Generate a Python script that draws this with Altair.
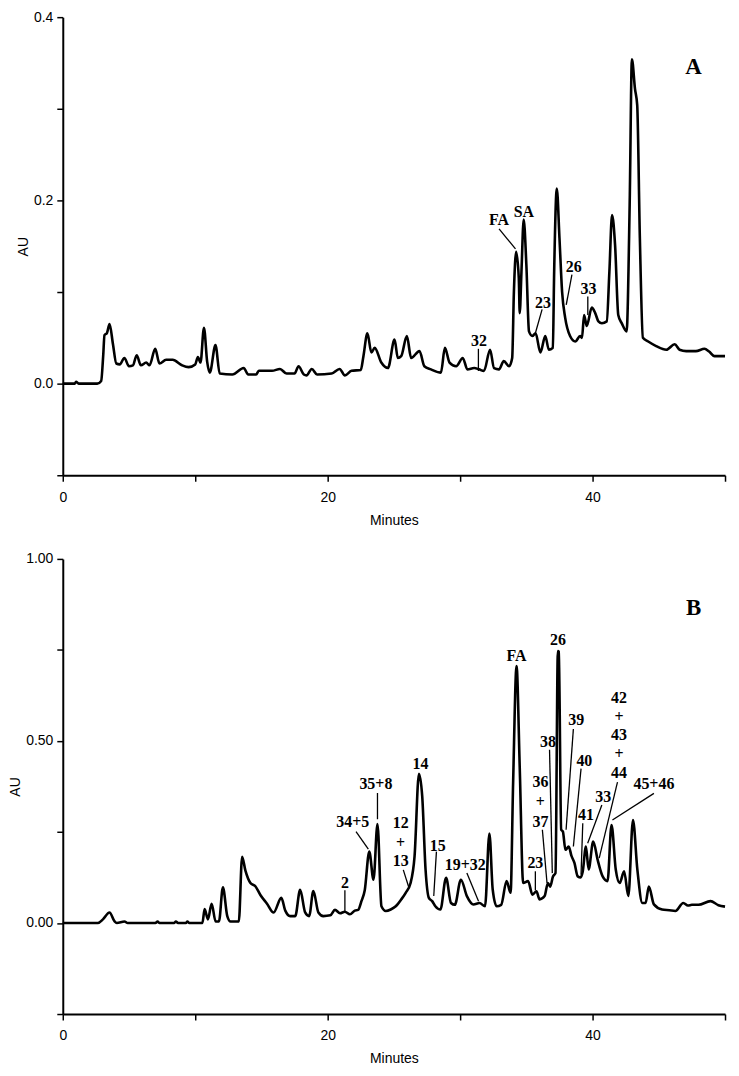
import altair as alt
import pandas as pd

# ---------------- Panel A trace (minutes, AU) ----------------
a_time = [0, 0.9, 1.0, 1.2, 2.6, 2.9, 3.05, 3.15, 3.33, 3.53, 3.79, 4.04, 4.3, 4.65, 5.0, 5.3, 5.58, 5.9,
          6.3, 6.55, 6.98, 7.3, 7.8, 8.3, 9.0, 9.5, 10.0, 10.2, 10.4, 10.66, 10.9, 11.1, 11.53, 11.85,
          12.8, 13.66, 14.0, 14.6, 14.8, 15.8, 16.4, 16.9, 17.5, 17.8, 18.2, 18.4, 18.8, 19.2, 20.3,
          20.9, 21.3, 21.8, 22.5, 22.7, 23.0, 23.3, 23.55, 24.05, 24.55, 25.05, 25.3, 25.55, 25.98,
          26.3, 26.93, 27.3, 27.8, 28.55, 28.85, 29.2, 29.7, 30.2, 30.55, 31.06, 31.43, 31.8, 32.26,
          32.56, 32.93, 33.3, 33.7, 33.93, 34.06, 34.23, 34.43, 34.5, 34.63, 34.8, 35.0, 35.2, 35.45,
          35.7, 36.06, 36.43, 36.7, 37.0, 37.1, 37.3, 37.5, 37.7, 37.93, 38.3, 38.7, 39.06, 39.2,
          39.36, 39.56, 39.94, 40.2, 40.44, 40.7, 41.07, 41.27, 41.47, 41.7, 41.94, 42.2, 42.57, 42.8,
          42.97, 43.2, 43.37, 43.57, 43.8, 44.2, 44.8, 45.57, 46.2, 46.57, 47.07, 47.8, 48.45, 48.8,
          49.2, 50.0]
a_au = [0, 0, 0.002, 0, 0, 0.003, 0.03, 0.053, 0.055, 0.065, 0.043, 0.022, 0.021, 0.028, 0.019, 0.02,
        0.031, 0.02, 0.023, 0.02, 0.038, 0.022, 0.026, 0.026, 0.02, 0.018, 0.021, 0.029, 0.023, 0.061,
        0.024, 0.012, 0.042, 0.011, 0.01, 0.017, 0.01, 0.01, 0.014, 0.014, 0.016, 0.011, 0.011, 0.019,
        0.01, 0.009, 0.016, 0.01, 0.011, 0.016, 0.009, 0.014, 0.015, 0.03, 0.055, 0.034, 0.039, 0.023,
        0.017, 0.048, 0.028, 0.030, 0.052, 0.028, 0.0355, 0.019, 0.0156, 0.012, 0.039, 0.023, 0.019,
        0.028, 0.0156, 0.017, 0.0156, 0.0138, 0.037, 0.017, 0.0156, 0.0246, 0.019, 0.028, 0.10, 0.144,
        0.115, 0.077, 0.122, 0.179, 0.13, 0.057, 0.052, 0.055, 0.034, 0.052, 0.037, 0.039, 0.1225,
        0.213, 0.159, 0.10, 0.072, 0.052, 0.046, 0.052, 0.05, 0.075, 0.063, 0.083, 0.077, 0.068, 0.066,
        0.068, 0.1225, 0.184, 0.151, 0.075, 0.066, 0.057, 0.195, 0.354, 0.322, 0.304, 0.159, 0.05,
        0.046, 0.041, 0.037, 0.043, 0.037, 0.0355, 0.0355, 0.038, 0.035, 0.03, 0.03]

# ---------------- Panel B trace (minutes, AU) ----------------
b_time = [0, 2.65, 3.03, 3.53, 3.9, 4.08, 4.66, 4.9, 7.0, 7.16, 7.3, 8.4, 8.54, 8.7, 9.3, 9.41, 9.55,
          10.54, 10.71, 10.96, 11.24, 11.54, 11.79, 12.09, 12.42, 12.67, 13.29, 13.54, 13.79, 14.17,
          14.54, 14.92, 15.42, 15.92, 16.5, 16.8, 17.17, 17.55, 17.92, 18.3, 18.6, 18.92, 19.3, 19.67,
          20.2, 20.55, 20.93, 21.3, 21.68, 22.05, 22.3, 22.55, 22.8, 23.14, 23.46, 23.76, 24.06, 24.39,
          24.76, 25.14, 25.56, 25.89, 26.26, 26.56, 26.89, 27.14, 27.39, 27.64, 27.89, 28.13, 28.51,
          28.94, 29.31, 29.6, 30.06, 30.51, 31.01, 31.46, 31.88, 32.21, 32.46, 32.76, 33.1, 33.51,
          33.81, 34.0, 34.26, 34.5, 34.76, 35.13, 35.46, 35.76, 36.0, 36.38, 36.63, 36.8, 37.01, 37.2,
          37.38, 37.45, 37.63, 37.76, 37.95, 38.2, 38.4, 38.63, 38.88, 39.1, 39.25, 39.5, 39.7, 40.05,
          40.38, 40.76, 41.13, 41.43, 41.75, 42.05, 42.38, 42.7, 43.05, 43.38, 43.76, 44.0, 44.25,
          44.63, 45.25, 45.8, 46.25, 46.85, 47.2, 47.5, 48.0, 48.9, 49.5, 50.0]
b_au = [0, 0, 0.01, 0.029, 0.005, 0, 0.004, 0, 0, 0.004, 0, 0, 0.004, 0, 0, 0.004, 0, 0, 0.038, 0.01,
        0.053, 0.004, 0.004, 0.098, 0.019, 0.004, 0.004, 0.182, 0.144, 0.110, 0.101, 0.077, 0.053,
        0.029, 0.069, 0.034, 0.019, 0.019, 0.091, 0.029, 0.019, 0.088, 0.029, 0.019, 0.021, 0.036,
        0.027, 0.031, 0.024, 0.034, 0.036, 0.06, 0.09, 0.196, 0.119, 0.272, 0.046, 0.033, 0.037,
        0.046, 0.065, 0.083, 0.11, 0.183, 0.41, 0.347, 0.147, 0.069, 0.06, 0.046, 0.037, 0.124,
        0.055, 0.05, 0.119, 0.074, 0.051, 0.055, 0.046, 0.246, 0.092, 0.046, 0.05, 0.115, 0.083,
        0.383, 0.706, 0.428, 0.11, 0.115, 0.078, 0.087, 0.065, 0.074, 0.11, 0.1, 0.128, 0.137, 0.747,
        0.745, 0.256, 0.251, 0.201, 0.21, 0.185, 0.165, 0.128, 0.125, 0.14, 0.21, 0.147, 0.224,
        0.174, 0.128, 0.115, 0.269, 0.147, 0.11, 0.142, 0.074, 0.283, 0.147, 0.055, 0.055, 0.1,
        0.051, 0.037, 0.035, 0.033, 0.055, 0.048, 0.05, 0.05, 0.06, 0.049, 0.045]

# ---------------- Annotations ----------------
a_lbl_text = ["FA", "SA", "23", "26", "33", "32"]
a_lbl_x = [32.94, 34.81, 36.26, 38.57, 39.69, 31.43]
a_lbl_y = [0.1786, 0.187, 0.088, 0.127, 0.1036, 0.046]
a_lead_x1 = [32.94, 36.19, 38.44, 39.64, 31.38]
a_lead_y1 = [0.169, 0.081, 0.119, 0.095, 0.038]
a_lead_x2 = [34.18, 35.68, 38.01, 39.64, 31.38]
a_lead_y2 = [0.147, 0.055, 0.086, 0.075, 0.0138]

b_lbl_text = ["2", "34+5", "35+8", "12", "+", "13", "14", "15", "19+32", "FA", "26", "38", "39", "40",
              "36", "+", "37", "23", "41", "33", "42", "+", "43", "+", "44", "45+46"]
b_lbl_x = [21.3, 21.89, 23.64, 25.51, 25.51, 25.51, 27.01, 28.31, 30.39, 34.26, 37.38, 36.63, 38.76,
           39.38, 36.06, 36.06, 36.06, 35.68, 39.5, 40.8, 42.0, 42.0, 42.0, 42.0, 42.0, 44.63]
b_lbl_y = [0.11, 0.278, 0.383, 0.274, 0.221, 0.169, 0.437, 0.212, 0.160, 0.733, 0.778, 0.497, 0.557,
           0.445, 0.387, 0.333, 0.278, 0.165, 0.297, 0.347, 0.619, 0.567, 0.515, 0.463, 0.412, 0.381]
b_lead_x1 = [21.3, 22.14, 23.76, 25.71, 28.21, 30.51, 36.75, 38.55, 39.13, 36.21, 35.68, 39.26, 40.7, 41.88, 44.63]
b_lead_y1 = [0.09, 0.251, 0.357, 0.146, 0.196, 0.137, 0.476, 0.533, 0.424, 0.256, 0.142, 0.274, 0.324, 0.387, 0.356]
b_lead_x2 = [21.3, 23.07, 23.76, 26.14, 28.01, 31.39, 36.96, 38.0, 38.55, 36.56, 35.68, 39.13, 39.63, 40.5, 41.5]
b_lead_y2 = [0.032, 0.203, 0.285, 0.096, 0.074, 0.060, 0.137, 0.256, 0.210, 0.110, 0.09, 0.133, 0.219, 0.178, 0.283]

panel_letters = ["A", "B"]
letter_x = [47.63, 47.63]
letter_y = [0.346, 0.865]

W = 665


def panel(time, au, ydom, yvals, yfmt, ylabs, ltext, lx, ly, lx1, ly1, lx2, ly2, letter, lxp, lyp, h):
    xenc = alt.X("t:Q", scale=alt.Scale(domain=[0, 50], nice=False, zero=False),
                 axis=alt.Axis(values=[0, 10, 20, 30, 40, 50], title="Minutes",
                               labelExpr="datum.value % 20 == 0 ? datum.label : ''",
                               labelPadding=9, titlePadding=9, labelFlush=False))
    yenc = alt.Y("v:Q", scale=alt.Scale(domain=ydom, nice=False, zero=False),
                 axis=alt.Axis(values=yvals, format=yfmt, title="AU",
                               labelExpr="indexof(" + str(ylabs) + ", datum.label) >= 0 ? datum.label : ''",
                               labelPadding=4, titlePadding=3, labelFlush=False))
    line = alt.Chart(pd.DataFrame({"t": time, "v": au})).mark_line(
        color="black", strokeWidth=2.6, interpolate="monotone").encode(x=xenc, y=yenc)
    rules = alt.Chart(pd.DataFrame({"t": lx1, "v": ly1, "t2": lx2, "v2": ly2})).mark_rule(
        color="black", strokeWidth=1.3).encode(x=xenc, y=yenc, x2="t2:Q", y2="v2:Q")
    texts = alt.Chart(pd.DataFrame({"t": lx, "v": ly, "s": ltext})).mark_text(
        font="Liberation Serif", fontWeight="bold", fontSize=16, color="black",
        baseline="middle", align="center").encode(x=xenc, y=yenc, text="s:N")
    let = alt.Chart(pd.DataFrame({"t": [lxp], "v": [lyp], "s": [letter]})).mark_text(
        font="Liberation Serif", fontWeight="bold", fontSize=23, color="black",
        baseline="middle", align="center").encode(x=xenc, y=yenc, text="s:N")
    return alt.layer(line, rules, texts, let).properties(width=W, height=h)


pa = panel(a_time, a_au, [-0.1, 0.4], [-0.1, 0.0, 0.1, 0.2, 0.3, 0.4], ".1f", ["0.0", "0.2", "0.4"],
           a_lbl_text, a_lbl_x, a_lbl_y, a_lead_x1, a_lead_y1, a_lead_x2, a_lead_y2,
           panel_letters[0], letter_x[0], letter_y[0], 460)
pb = panel(b_time, b_au, [-0.25, 1.0], [-0.25, 0.0, 0.25, 0.5, 0.75, 1.0], ".2f", ["0.00", "0.50", "1.00"],
           b_lbl_text, b_lbl_x, b_lbl_y, b_lead_x1, b_lead_y1, b_lead_x2, b_lead_y2,
           panel_letters[1], letter_x[1], letter_y[1], 457)

pad = {"left": 0, "top": 0, "right": 0, "bottom": 0}
chart = alt.vconcat(pa, pb, spacing=25, padding=pad, background="white").configure(
    padding=pad
).configure_view(stroke=None).configure_axis(
    domainColor="black", domainWidth=2, tickColor="black", tickWidth=1.5, tickSize=6,
    labelFont="Liberation Sans", labelFontSize=14, labelColor="black",
    titleFont="Liberation Sans", titleFontSize=14, titleFontWeight="normal", titleColor="black",
    grid=False
)

chart.save("out.html", embed_options={"renderer": "svg", "actions": False})
